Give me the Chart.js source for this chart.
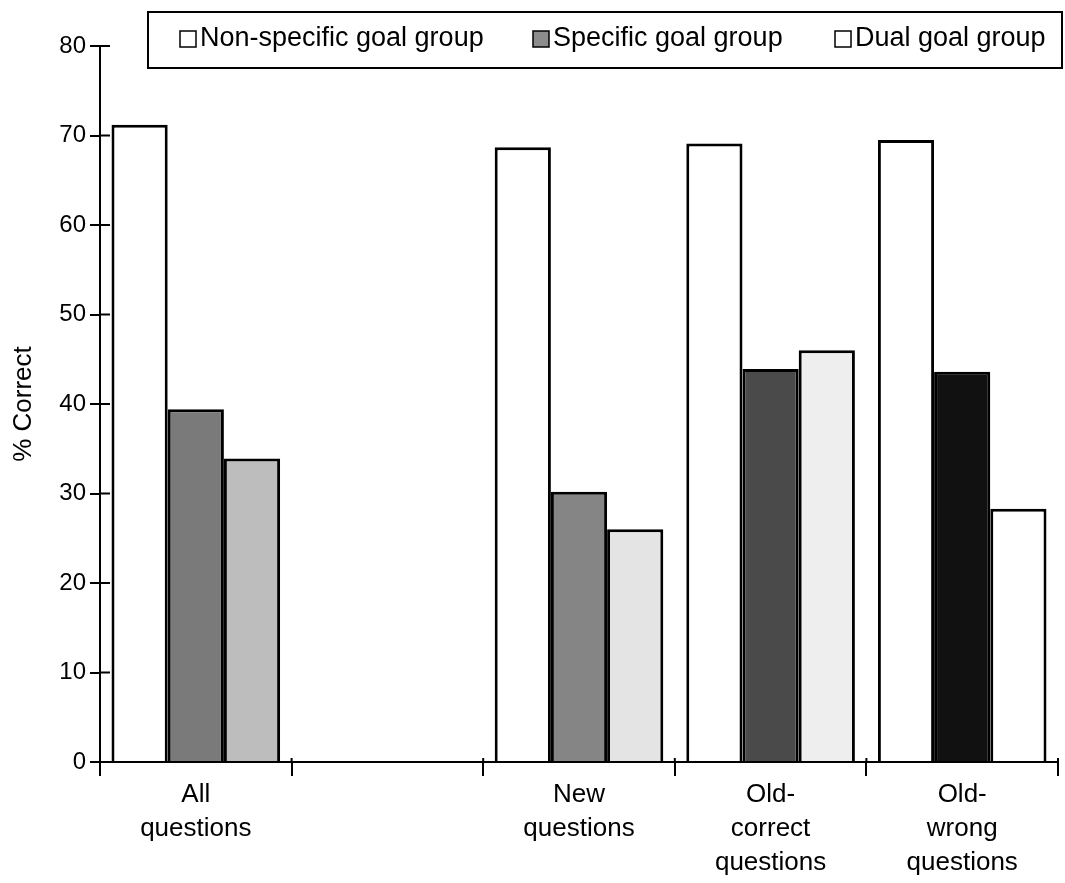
<!DOCTYPE html>
<html>
<head>
<meta charset="utf-8">
<script src="https://cdn.jsdelivr.net/npm/chart.js@4.4.1/dist/chart.umd.min.js"></script>
<style>
    html, body { margin: 0; padding: 0; background: #fff; }
    #wrap { width: 1065px; height: 883px; position: relative; }
</style>
</head>
<body>
<div id="wrap"><canvas id="basic_bars"></canvas></div>
<script>
// Data
// ------------------------------

var categories = [['All', 'questions'], '', ['New', 'questions'], ['Old-', 'correct', 'questions'], ['Old-', 'wrong', 'questions']];
var seriesNames = ['Non-specific goal group', 'Specific goal group', 'Dual goal group'];
var nonSpecific = [71.2, null, 68.7, 69.1, 69.5];
var specific = [39.4, null, 30.2, 43.9, 43.6];
var dual = [33.9, null, 26.0, 46.0, 28.3];
var yTicks = [0, 10, 20, 30, 40, 50, 60, 70, 80];

// scanned shades, one per bar
var nonSpecificFill = ['#ffffff', '#ffffff', '#ffffff', '#ffffff', '#ffffff'];
var specificFill = ['#7a7a7a', '#7a7a7a', '#858585', '#4a4a4a', '#111111'];
var dualFill = ['#bdbdbd', '#bdbdbd', '#e4e4e4', '#eeeeee', '#ffffff'];
var legendFill = ['#ffffff', '#8c8c8c', '#ffffff'];

var FONT = "'Liberation Sans', Arial, sans-serif";

// Boxed legend over the top of the plot
// ------------------------------

var boxLegend = {
    id: 'boxLegend',
    afterDraw: function (chart) {
        var ctx = chart.ctx;
        var xs = [180, 533, 835];
        ctx.save();
        ctx.fillStyle = '#fff';
        ctx.fillRect(148, 12, 914, 56);
        ctx.strokeStyle = '#000';
        ctx.lineWidth = 2;
        ctx.strokeRect(148, 12, 914, 56);
        ctx.font = '27px ' + FONT;
        ctx.textBaseline = 'middle';
        for (var i = 0; i < seriesNames.length; i++) {
            ctx.fillStyle = legendFill[i];
            ctx.fillRect(xs[i], 31, 16, 16);
            ctx.lineWidth = 1.5;
            ctx.strokeRect(xs[i], 31, 16, 16);
            ctx.fillStyle = '#000';
            ctx.fillText(seriesNames[i], xs[i] + 20, 39);
        }
        ctx.restore();
    }
};

// y ticks cross the axis, x ticks poke above it
var innerTicks = {
    id: 'innerTicks',
    afterDatasetsDraw: function (chart) {
        var ctx = chart.ctx;
        var y = chart.scales.y;
        var x = chart.scales.x;
        ctx.save();
        ctx.strokeStyle = '#000';
        ctx.lineWidth = 2;
        ctx.beginPath();
        y.ticks.forEach(function (t, i) {
            var py = y.getPixelForTick(i);
            ctx.moveTo(y.right, py);
            ctx.lineTo(y.right + 10, py);
        });
        for (var i = 1; i <= categories.length; i++) {
            var px = x.left + i * (x.right - x.left) / categories.length;
            ctx.moveTo(px, x.top - 4);
            ctx.lineTo(px, x.top);
        }
        ctx.stroke();
        ctx.restore();
    }
};

// Chart setup
// ------------------------------

var basic_bars_options = {
    type: 'bar',
    data: {
        labels: categories,
        datasets: [
            { label: seriesNames[0], data: nonSpecific, backgroundColor: nonSpecificFill },
            { label: seriesNames[1], data: specific, backgroundColor: specificFill },
            { label: seriesNames[2], data: dual, backgroundColor: dualFill }
        ]
    },
    options: {
        responsive: false,
        animation: false,
        layout: {
            padding: { top: 46, right: 7, bottom: 0, left: 0 }
        },
        datasets: {
            bar: {
                borderColor: '#000',
                borderWidth: 3,
                categoryPercentage: 0.88,
                barPercentage: 1
            }
        },
        plugins: {
            legend: { display: false },
            tooltip: { enabled: false }
        },
        scales: {
            x: {
                grid: {
                    offset: true,
                    drawOnChartArea: false,
                    color: '#000',
                    lineWidth: 2,
                    tickLength: 14
                },
                border: { color: '#000', width: 2 },
                ticks: {
                    color: '#000',
                    autoSkip: false,
                    maxRotation: 0,
                    padding: 2,
                    font: { family: FONT, size: 26, lineHeight: 1.3 }
                },
                afterFit: function (scale) { scale.height = 121; }
            },
            y: {
                min: 0,
                max: 80,
                afterBuildTicks: function (scale) {
                    scale.ticks = yTicks.map(function (v) { return { value: v }; });
                },
                grid: {
                    drawOnChartArea: false,
                    color: '#000',
                    lineWidth: 2,
                    tickLength: 10
                },
                border: { color: '#000', width: 2 },
                ticks: {
                    color: '#000',
                    padding: 4,
                    font: { family: FONT, size: 24 }
                },
                title: {
                    display: true,
                    text: '% Correct',
                    color: '#000',
                    padding: { top: 8, bottom: 0 },
                    font: { family: FONT, size: 26 }
                },
                afterFit: function (scale) { scale.width = 100; }
            }
        }
    },
    plugins: [boxLegend, innerTicks]
};

var canv = document.getElementById('basic_bars');
canv.width = 1065;
canv.height = 883;
var chart = new Chart(canv, basic_bars_options);
</script>
</body>
</html>
